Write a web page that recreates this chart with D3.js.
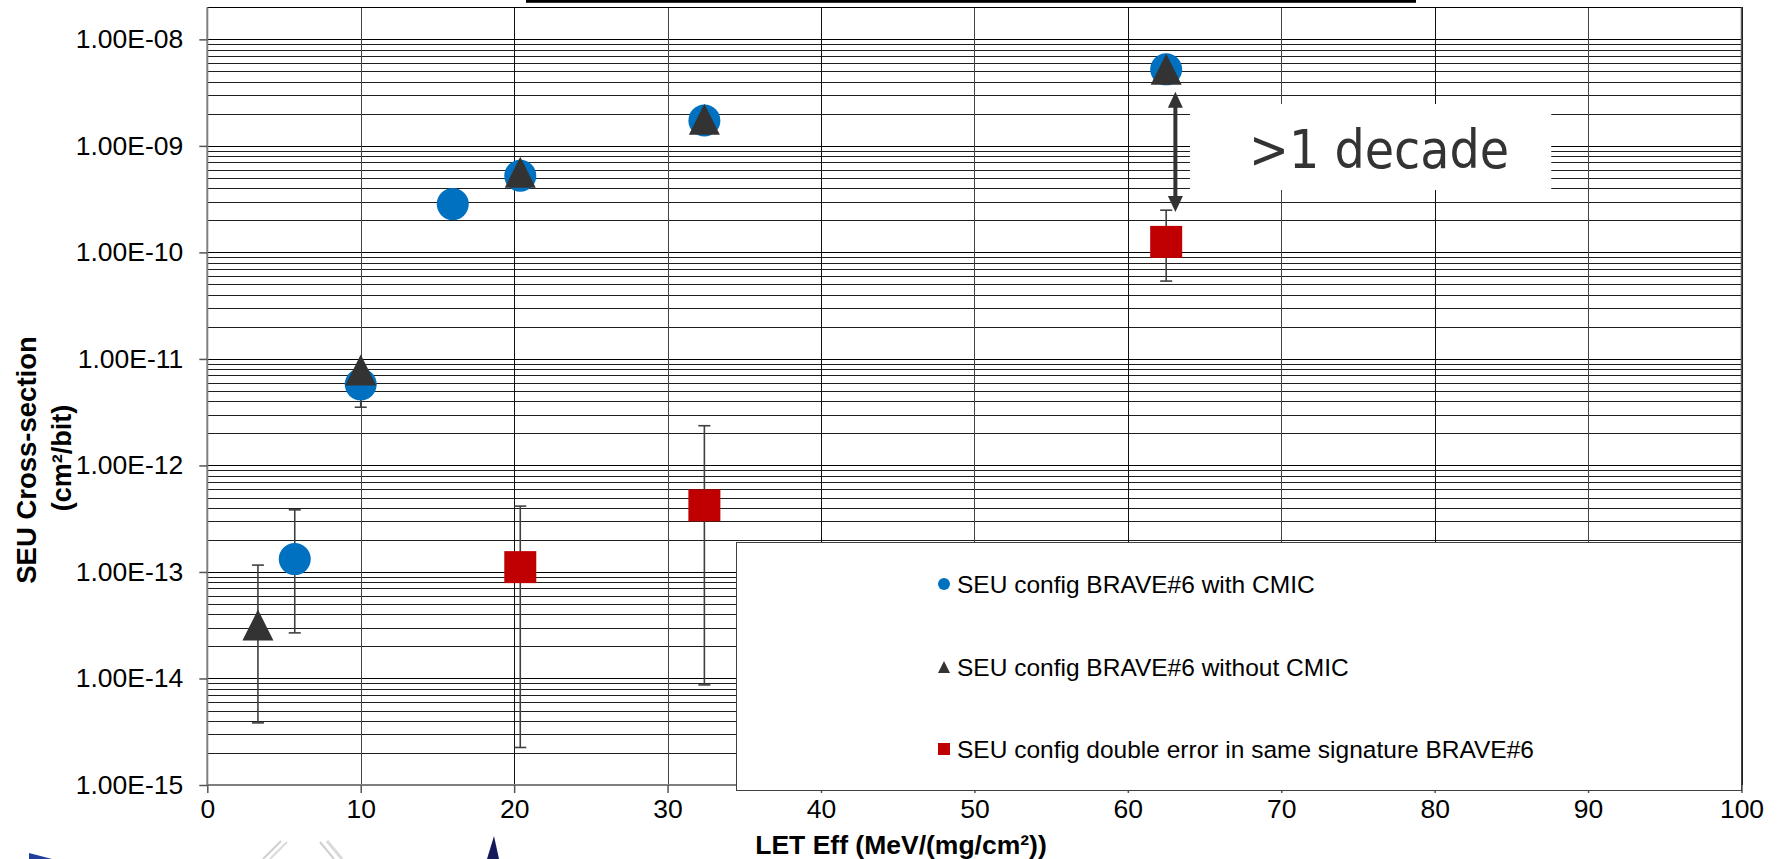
<!DOCTYPE html>
<html>
<head>
<meta charset="utf-8">
<script src="https://cdn.jsdelivr.net/npm/d3@7"></script>
<style>
  body { margin: 0; background: #fff; }
  text { font-family: "Liberation Sans", Arial, sans-serif; }
</style>
</head>
<body>
<div class="container"></div>
<script>
const WIDTH = 1779;
const HEIGHT = 859;
const LEFT = 207.3;
const RIGHT = 1741.5;
const TOP = 7.3;
const BOTTOM = 785;

// series 1: SEU config BRAVE#6 with CMIC
var withCmicLet   = [5.7, 10.0, 16.0, 20.4, 32.4, 62.5];
var withCmicSigma = [1.32e-13, 5.77e-12, 2.84e-10, 5.24e-10, 1.73e-9, 5.23e-9];
var withCmicLow   = [2.68e-14, 3.52e-12, null, null, null, null];
var withCmicHigh  = [3.83e-13, 7.5e-12, null, null, null, null];

// series 2: SEU config BRAVE#6 without CMIC
var withoutCmicLet   = [3.3, 10.0, 20.4, 32.4, 62.5];
var withoutCmicSigma = [3.17e-14, 7.85e-12, 5.67e-10, 1.78e-9, 5.23e-9];
var withoutCmicLow   = [3.83e-15, null, null, null, null];
var withoutCmicHigh  = [1.16e-13, null, null, null, null];

// series 3: double error in same signature
var doubleLet   = [20.4, 32.4, 62.5];
var doubleSigma = [1.11e-13, 4.22e-13, 1.255e-10];
var doubleLow   = [2.25e-15, 8.7e-15, 5.38e-11];
var doubleHigh  = [4.15e-13, 2.36e-12, 2.49e-10];

var seriesNames = ["SEU config BRAVE#6 with CMIC", "SEU config BRAVE#6 without CMIC", "SEU config double error in same signature BRAVE#6"];
var seriesColours = ["#0070C0", "#333333", "#C00000"];

var xTicks = [0, 10, 20, 30, 40, 50, 60, 70, 80, 90, 100];
var yTicks = [1e-15, 1e-14, 1e-13, 1e-12, 1e-11, 1e-10, 1e-9, 1e-8];
var yTickLabels = ["1.00E-15", "1.00E-14", "1.00E-13", "1.00E-12", "1.00E-11", "1.00E-10", "1.00E-09", "1.00E-08"];
var yMax = 2e-8;

// ">1 decade" annotation, in data units
var arrowLet = 63.1;
var arrowFrom = 3.22e-9;
var arrowTo = 2.4e-10;
var noteBoxLet = [64.05, 87.6];
var noteBoxSigma = [2.47e-9, 3.85e-10];
var noteLet = 67.9;
var noteSigma = 6.15e-10;
var noteText = ">1 decade";

var svg, xScale, yScale;

var zip = function (xs, ys, lo, hi) {
    return xs.map(function (x, i) {
        return {x: x, y: ys[i], lo: lo ? lo[i] : null, hi: hi ? hi[i] : null};
    });
};

var trianglePath = function (s) {
    var h = s / 2;
    return "M0," + (-h) + "L" + h + "," + h + "L" + (-h) + "," + h + "Z";
};

function createChart() {
    svg = d3.select(".container").append("svg")
        .attr("width", WIDTH)
        .attr("height", HEIGHT);

    xScale = d3.scaleLinear().domain([0, 100]).range([LEFT, RIGHT]);
    yScale = d3.scaleLog().domain([1e-15, yMax]).range([BOTTOM, TOP]);

    // title underline (title itself is cut off above)
    svg.append("rect").attr("x", 526).attr("y", 0).attr("width", 890).attr("height", 2.8).attr("fill", "#000");

    var grid = svg.append("g").attr("shape-rendering", "crispEdges");

    var minor = [];
    yTicks.forEach(function (d) {
        for (var k = 2; k <= 9; k++) {
            if (k * d < yMax * 0.999) minor.push(k * d);
        }
    });

    grid.selectAll(".minor").data(minor).enter().append("line")
        .attr("x1", LEFT).attr("x2", RIGHT)
        .attr("y1", function (d) { return Math.round(yScale(d)) + 0.5; })
        .attr("y2", function (d) { return Math.round(yScale(d)) + 0.5; })
        .attr("stroke", "#1e1e1e").attr("stroke-width", 1);

    grid.selectAll(".major").data(yTicks).enter().append("line")
        .attr("x1", LEFT).attr("x2", RIGHT)
        .attr("y1", function (d) { return Math.round(yScale(d)) + 0.5; })
        .attr("y2", function (d) { return Math.round(yScale(d)) + 0.5; })
        .attr("stroke", "#000").attr("stroke-width", 1.5);

    grid.selectAll(".vgrid").data(xTicks.slice(1)).enter().append("line")
        .attr("x1", function (d) { return Math.round(xScale(d)) + 0.5; })
        .attr("x2", function (d) { return Math.round(xScale(d)) + 0.5; })
        .attr("y1", TOP).attr("y2", BOTTOM)
        .attr("stroke", function (d, i) { return i % 2 ? "#111" : "#444"; })
        .attr("stroke-width", 1);

    // top border
    grid.append("line").attr("x1", LEFT).attr("x2", RIGHT).attr("y1", TOP).attr("y2", TOP)
        .attr("stroke", "#000").attr("stroke-width", 1.5);

    // axes
    var yAxis = d3.axisLeft(yScale).tickValues(yTicks).tickSize(8).tickPadding(16)
        .tickFormat(function (d, i) { return yTickLabels[i]; });
    var xAxis = d3.axisBottom(xScale).tickValues(xTicks).tickSize(8).tickPadding(12);

    var gy = svg.append("g").attr("transform", "translate(" + LEFT + ",0)").call(yAxis);
    var gx = svg.append("g").attr("transform", "translate(0," + BOTTOM + ")").call(xAxis);
    [gx, gy].forEach(function (g) {
        g.select(".domain").attr("stroke", "#7f7f7f").attr("stroke-width", 2);
        g.selectAll(".tick line").attr("stroke", "#555").attr("stroke-width", 1.5);
        g.selectAll("text").attr("fill", "#000").style("font-size", "26.5px")
            .style("font-family", "'Liberation Sans', Arial, sans-serif");
    });
    gy.select(".domain").attr("d", "M0," + BOTTOM + "V" + TOP);
    gx.select(".domain").attr("d", "M" + LEFT + ",0H" + RIGHT);
    gx.selectAll("text").attr("dy", "0.71em").attr("y", 14);

    // right border
    svg.append("line").attr("x1", RIGHT).attr("x2", RIGHT).attr("y1", TOP).attr("y2", BOTTOM)
        .attr("stroke", "#555").attr("stroke-width", 1.5);

    // axis titles
    svg.append("text")
        .attr("transform", "translate(36,460) rotate(-90)")
        .attr("text-anchor", "middle")
        .style("font-size", "27.5px").style("font-weight", "bold")
        .text("SEU Cross-section");
    svg.append("text")
        .attr("transform", "translate(71,458) rotate(-90)")
        .attr("text-anchor", "middle")
        .style("font-size", "27px").style("font-weight", "bold")
        .text("(cm²/bit)");
    svg.append("text")
        .attr("x", 901).attr("y", 854)
        .attr("text-anchor", "middle")
        .style("font-size", "26.5px").style("font-weight", "bold")
        .text("LET Eff (MeV/(mg/cm²))");

    var series = [
        zip(withCmicLet, withCmicSigma, withCmicLow, withCmicHigh),
        zip(withoutCmicLet, withoutCmicSigma, withoutCmicLow, withoutCmicHigh),
        zip(doubleLet, doubleSigma, doubleLow, doubleHigh)
    ];

    series.forEach(function (data, s) {
        var g = svg.append("g");
        var bars = data.filter(function (d) { return d.lo !== null; });
        var eb = g.selectAll(".err").data(bars).enter().append("g").attr("stroke", "#404040").attr("stroke-width", 1.6);
        eb.append("line")
            .attr("x1", function (d) { return xScale(d.x); }).attr("x2", function (d) { return xScale(d.x); })
            .attr("y1", function (d) { return yScale(d.lo); }).attr("y2", function (d) { return yScale(d.hi); });
        eb.append("line")
            .attr("x1", function (d) { return xScale(d.x) - 6; }).attr("x2", function (d) { return xScale(d.x) + 6; })
            .attr("y1", function (d) { return yScale(d.lo); }).attr("y2", function (d) { return yScale(d.lo); });
        eb.append("line")
            .attr("x1", function (d) { return xScale(d.x) - 6; }).attr("x2", function (d) { return xScale(d.x) + 6; })
            .attr("y1", function (d) { return yScale(d.hi); }).attr("y2", function (d) { return yScale(d.hi); });

        var pts = g.selectAll(".pt").data(data).enter();
        if (s === 0) {
            pts.append("circle")
                .attr("cx", function (d) { return xScale(d.x); })
                .attr("cy", function (d) { return yScale(d.y); })
                .attr("r", 16).attr("fill", seriesColours[s]);
        } else if (s === 1) {
            pts.append("path")
                .attr("d", trianglePath(31))
                .attr("transform", function (d) { return "translate(" + xScale(d.x) + "," + yScale(d.y) + ")"; })
                .attr("fill", seriesColours[s]);
        } else {
            pts.append("rect")
                .attr("x", function (d) { return xScale(d.x) - 16; })
                .attr("y", function (d) { return yScale(d.y) - 16; })
                .attr("width", 32).attr("height", 32)
                .attr("fill", seriesColours[s]);
        }
    });

    // legend
    var legend = svg.append("g");
    legend.append("rect")
        .attr("x", 736.5).attr("y", 542.5).attr("width", RIGHT - 736.5).attr("height", 248)
        .attr("fill", "#fff").attr("stroke", "#404040").attr("stroke-width", 1.2)
        .attr("shape-rendering", "crispEdges");
    var rowY = [584, 667, 749];
    seriesNames.forEach(function (name, i) {
        var row = legend.append("g").attr("transform", "translate(944," + rowY[i] + ")");
        if (i === 0) row.append("circle").attr("r", 6).attr("fill", seriesColours[i]);
        else if (i === 1) row.append("path").attr("d", trianglePath(12)).attr("fill", seriesColours[i]);
        else row.append("rect").attr("x", -6).attr("y", -6).attr("width", 12).attr("height", 12).attr("fill", seriesColours[i]);
        row.append("text").attr("x", 13).attr("dy", "0.36em")
            .style("font-size", "24.5px").attr("fill", "#000").text(name);
    });

    // ">1 decade" note
    svg.append("rect")
        .attr("x", xScale(noteBoxLet[0])).attr("y", yScale(noteBoxSigma[0]))
        .attr("width", xScale(noteBoxLet[1]) - xScale(noteBoxLet[0]))
        .attr("height", yScale(noteBoxSigma[1]) - yScale(noteBoxSigma[0]))
        .attr("fill", "#fff");
    svg.append("text")
        .attr("x", xScale(noteLet)).attr("y", yScale(noteSigma))
        .attr("fill", "#333")
        .style("font-family", "'DejaVu Sans Condensed', 'DejaVu Sans', sans-serif")
        .style("font-stretch", "condensed")
        .style("font-size", "53px")
        .text(noteText);

    var ax = xScale(arrowLet), a1 = yScale(arrowFrom), a2 = yScale(arrowTo);
    svg.append("line").attr("x1", ax).attr("x2", ax).attr("y1", a1 + 12).attr("y2", a2 - 12)
        .attr("stroke", "#333").attr("stroke-width", 4);
    svg.append("path").attr("d", "M" + ax + "," + a1 + "l7.5,16h-15z").attr("fill", "#333");
    svg.append("path").attr("d", "M" + ax + "," + a2 + "l7.5,-16h-15z").attr("fill", "#333");

    // bits of the slide logo peeking in at the bottom
    var logo = svg.append("g").attr("fill", "none");
    logo.append("path").attr("d", "M29,853 L52,859 L29,859 Z").attr("fill", "#1f3f9a");
    logo.append("path").attr("d", "M263,859 L281,841").attr("stroke", "#cfcfcf").attr("stroke-width", 2);
    logo.append("path").attr("d", "M270,859 L287,842").attr("stroke", "#dadada").attr("stroke-width", 2);
    logo.append("path").attr("d", "M320,842 L334,859").attr("stroke", "#cfcfcf").attr("stroke-width", 2);
    logo.append("path").attr("d", "M327,841 L342,859").attr("stroke", "#dadada").attr("stroke-width", 3);
    logo.append("path").attr("d", "M494,836 L499,859 L487,859 Z").attr("fill", "#141a5a");
}

window.onload = function () {
    createChart();
};
</script>
</body>
</html>
